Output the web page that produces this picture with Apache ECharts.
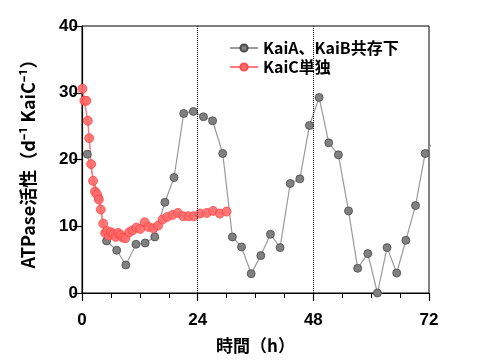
<!DOCTYPE html>
<html>
<head>
<meta charset="utf-8">
<script src="https://cdn.jsdelivr.net/npm/echarts@6/dist/echarts.min.js"></script>
<style>html,body{margin:0;padding:0;background:#fff}#c{width:480px;height:360px}</style>
</head>
<body>
<div id="c"></div>
<script>
// Data
const xTicks = [0, 24, 48, 72];
const refLines = [24, 48];
const grayName = 'KaiA、KaiB共存下';
const redName = 'KaiC単独';
const grayT = [1.1, 3.4, 5.1, 7.2, 9.1, 11.2, 13.1, 15.1, 17.2, 19.1, 21.1, 23.1, 25.2, 27.1, 29.2, 31.2, 33.1, 35.1, 37.1, 39.1, 41.1, 43.2, 45.2, 47.2, 49.2, 51.2, 53.2, 55.3, 57.2, 59.3, 61.3, 63.3, 65.3, 67.2, 69.2, 71.2, 73.2];
const grayV = [20.8, 14.3, 7.8, 6.4, 4.2, 7.3, 7.5, 8.4, 13.6, 17.3, 26.9, 27.2, 26.4, 25.8, 20.9, 8.4, 6.9, 2.9, 5.6, 8.8, 6.8, 16.4, 17.1, 25.1, 29.3, 22.5, 20.7, 12.3, 3.7, 5.9, 0, 6.8, 3.0, 7.9, 13.1, 20.9, 23.0];
const redT = [0.1, 0.5, 0.9, 1.2, 1.5, 1.9, 2.3, 2.7, 3.1, 3.5, 3.9, 4.4, 4.8, 5.2, 5.6, 6.0, 6.5, 7.0, 7.5, 8.0, 8.5, 9.0, 9.8, 10.5, 11.3, 12.1, 13.0, 13.8, 14.8, 15.8, 16.7, 17.7, 18.8, 19.9, 21.0, 22.1, 23.2, 24.5, 25.9, 27.2, 28.6, 30.0];
const redV = [30.6, 28.8, 28.8, 25.8, 23.2, 19.3, 16.8, 15.2, 14.8, 14.0, 12.5, 10.4, 9.0, 9.3, 8.6, 9.1, 8.8, 8.4, 9.0, 8.7, 8.3, 8.2, 9.1, 9.4, 9.8, 9.6, 10.6, 9.9, 9.7, 10.1, 11.0, 11.4, 11.7, 12.0, 11.5, 11.5, 11.5, 11.9, 12.0, 12.3, 11.9, 12.2];

const numFont = { fontFamily: 'Liberation Sans, Arial, sans-serif', fontWeight: 'bold', fontSize: 17, color: '#000' };
const chart = echarts.init(document.getElementById('c'), null, { renderer: 'canvas' });
chart.setOption({
  animation: false,
  backgroundColor: '#fff',
  grid: { left: 82, right: 51, top: 26, bottom: 67, show: true, borderColor: '#000', borderWidth: 1, backgroundColor: 'transparent' },
  legend: {
    left: 224, top: 35, orient: 'vertical', itemWidth: 28, itemHeight: 9, itemGap: 3,
    textStyle: { fontFamily: 'Noto Sans CJK JP', fontWeight: 'bold', fontSize: 16, color: '#000' },
    data: [grayName, redName]
  },
  xAxis: {
    type: 'value', min: 0, max: 72, interval: 24,
    name: '時間（h）', nameLocation: 'middle', nameGap: 44,
    nameTextStyle: { fontFamily: 'Noto Sans CJK JP', fontWeight: 'bold', fontSize: 17, color: '#000' },
    axisLine: { show: true, lineStyle: { color: '#000', width: 1.2 } },
    axisTick: { show: true, inside: false, length: 8, lineStyle: { color: '#000', width: 1.2 } },
    minorTick: { show: true, splitNumber: 4, length: 5, lineStyle: { color: '#000', width: 1 } },
    axisLabel: Object.assign({ margin: 19, formatter: v => xTicks.includes(v) ? String(v) : '' }, numFont),
    splitLine: { show: false }
  },
  yAxis: {
    type: 'value', min: 0, max: 40, interval: 10,
    name: 'ATPase活性（d⁻¹ KaiC⁻¹）', nameLocation: 'middle', nameGap: 45,
    nameTextStyle: { fontFamily: 'Noto Sans CJK JP', fontWeight: 'bold', fontSize: 18, color: '#000' },
    axisLine: { show: true, lineStyle: { color: '#000', width: 1.2 } },
    axisTick: { show: true, inside: false, length: 9, lineStyle: { color: '#000', width: 1.2 } },
    axisLabel: Object.assign({ margin: 4 }, numFont),
    splitLine: { show: false }
  },
  series: [
    {
      name: grayName, type: 'line', clip: true,
      data: grayT.map((t, i) => [t, grayV[i]]),
      symbol: 'circle', symbolSize: 8,
      lineStyle: { color: '#9a9a9a', width: 1.2 },
      itemStyle: { color: '#808080', borderColor: '#4a4a4a', borderWidth: 0.8 },
      markLine: {
        silent: true, symbol: 'none', label: { show: false },
        lineStyle: { color: '#000', type: 'dotted', width: 1 },
        data: refLines.map(x => ({ xAxis: x }))
      }
    },
    {
      name: redName, type: 'line', clip: true,
      data: redT.map((t, i) => [t, redV[i]]),
      symbol: 'circle', symbolSize: 9,
      lineStyle: { color: '#ff7a7a', width: 1.5 },
      itemStyle: { color: '#ff6a6a', borderColor: '#ff3d3d', borderWidth: 0.8, opacity: 0.9 }
    }
  ]
});
</script>
</body>
</html>
